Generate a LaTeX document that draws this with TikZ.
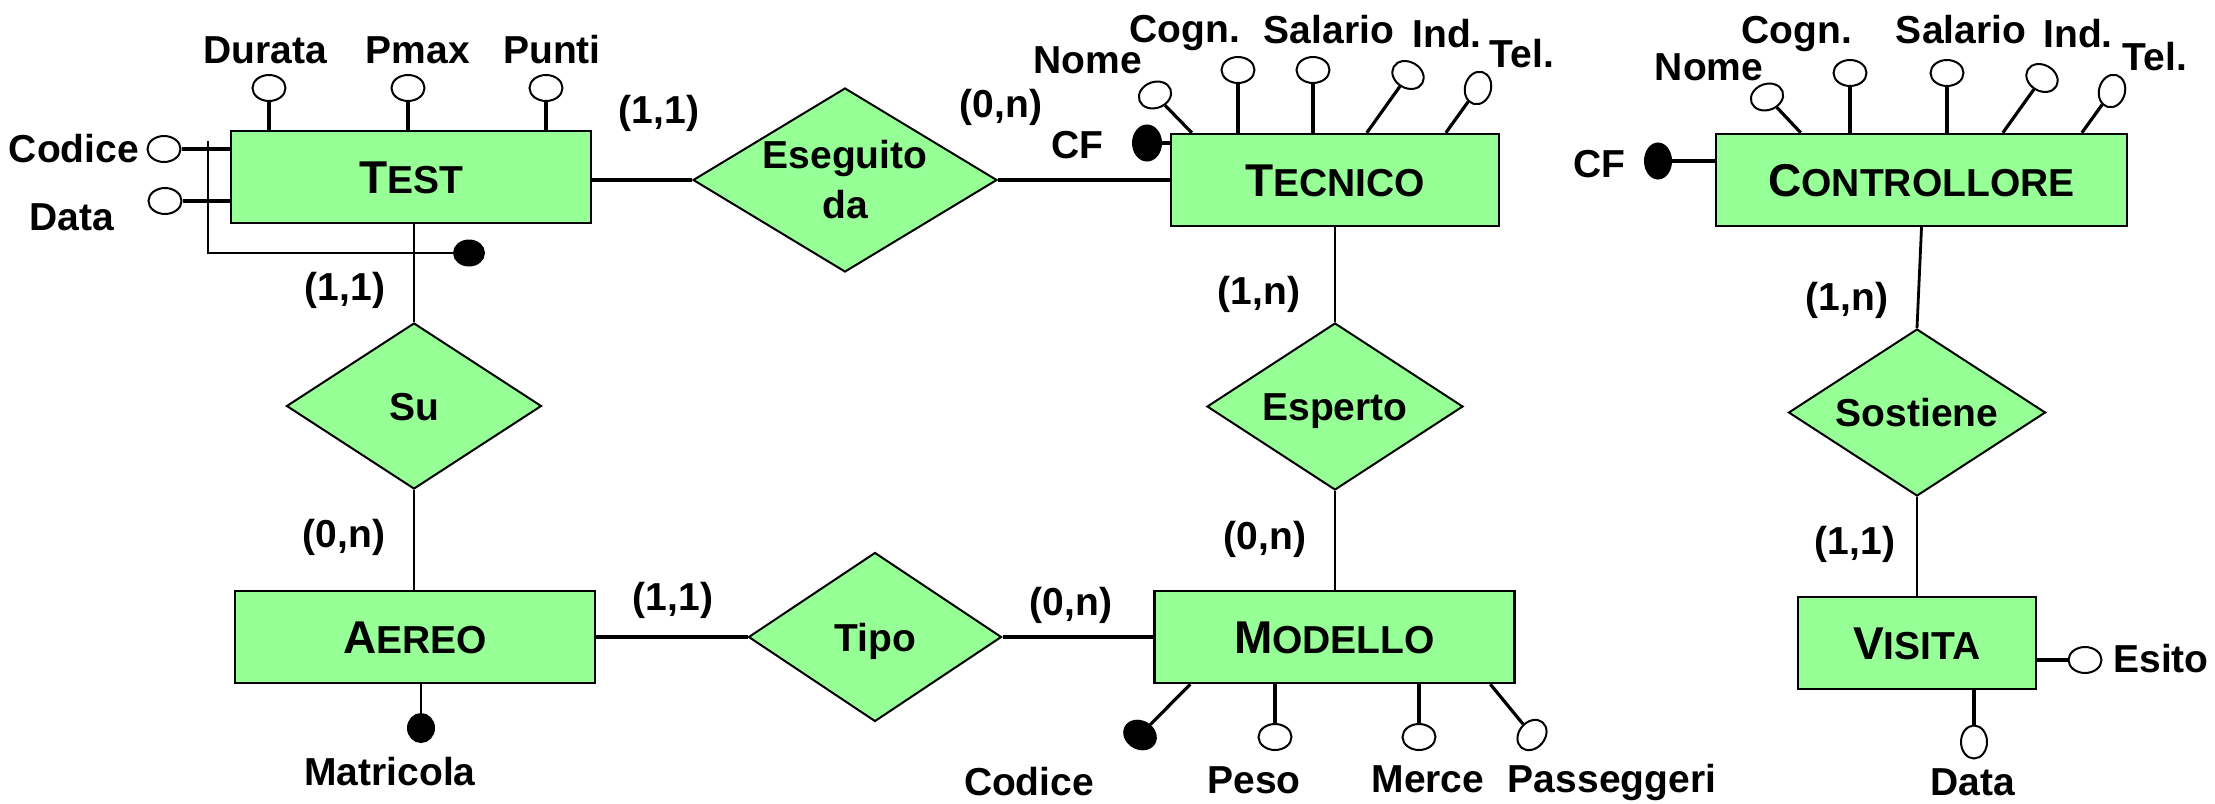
\documentclass[tikz,border=0pt]{standalone}
\usepackage{fontspec}
\setmainfont{Liberation Sans}
\usetikzlibrary{shapes.geometric}
\definecolor{ergreen}{RGB}{150,255,150}
\newcommand{\entname}[2]{{\fontsize{23}{23}\selectfont #1}#2}
\begin{document}
\begin{tikzpicture}[x=0.5pt,y=-0.5pt,
  font=\fontsize{19.5}{25}\selectfont\bfseries,
  entity/.style={draw=black, line width=1.2pt, fill=ergreen, rectangle, minimum height=46pt, inner sep=0pt, text height=16.5pt, text depth=0pt},
  rel/.style={draw=black, line width=1pt, fill=ergreen, diamond, inner sep=0pt},
  reltext/.style={inner sep=0pt, text height=14pt, text depth=0pt},
  attr/.style={draw=black, line width=1pt, fill=white, ellipse, minimum width=16.5pt, minimum height=13pt, inner sep=0pt},
  keyattr/.style={draw=black, line width=1pt, fill=black, ellipse, minimum width=16.5pt, minimum height=13.5pt, inner sep=0pt},
  lab/.style={anchor=base, inner sep=0pt},
  conn/.style={line width=1.4pt},
  thickconn/.style={line width=2pt},
  aline/.style={line width=1.6pt},
]
\useasboundingbox (0,0) rectangle (2215,803);

% entities
\node[entity, minimum width=180pt] (test) at (411,177) {\entname{T}{EST}};
\node[entity, minimum width=164pt] (tecnico) at (1335,180) {\entname{T}{ECNICO}};
\node[entity, minimum width=205.5pt] (controllore) at (1921.5,180) {\entname{C}{ONTROLLORE}};
\node[entity, minimum width=180pt] (aereo) at (415,637) {\entname{A}{EREO}};
\node[entity, minimum width=180pt] (modello) at (1334.5,637) {\entname{M}{ODELLO}};
\node[entity, minimum width=119pt] (visita) at (1917,643) {\entname{V}{ISITA}};

% relationships
\node[rel, minimum width=152pt, minimum height=92pt] (eseg) at (845,180) {};
\node[inner sep=0pt, align=center] (esegtxt) at (eseg.center) {Eseguito\\da};
\node[rel, minimum width=127.5pt, minimum height=83pt] (su) at (414,406) {};
\node[reltext] (sutxt) at (su.center) {Su};
\node[rel, minimum width=128pt, minimum height=83.5pt] (esperto) at (1335,406.5) {};
\node[reltext] (espertotxt) at (esperto.center) {Esperto};
\node[rel, minimum width=128.5pt, minimum height=83.5pt] (sostiene) at (1917,412.5) {};
\node[reltext] (sostienetxt) at (sostiene.center) {Sostiene};
\node[rel, minimum width=126.5pt, minimum height=84.5pt] (tipo) at (875,637) {};
\node[reltext] (tipotxt) at (tipo.center) {Tipo};

% relationship connectors
\draw[thickconn] (eseg.west -| test.east) -- (eseg.west);
\draw[thickconn] (eseg.east) -- (eseg.east -| tecnico.west);
\draw[conn] (su.north |- test.south) -- (su.north);
\draw[conn] (su.south) -- (su.south |- aereo.north);
\draw[conn] (esperto.north |- tecnico.south) -- (esperto.north);
\draw[conn] (esperto.south) -- (esperto.south |- modello.north);
\draw[thickconn] (tipo.west -| aereo.east) -- (tipo.west);
\draw[thickconn] (tipo.east) -- (tipo.east -| modello.west);
\draw[conn] (controllore.south) -- (sostiene.north);
\draw[conn] (sostiene.south) -- (visita.north);

% cardinalities
\node[lab] (c1) at (659,123) {(1,1)};
\node[lab] (c2) at (1001,117) {(0,n)};
\node[lab] (c3) at (345,300) {(1,1)};
\node[lab] (c4) at (344,547) {(0,n)};
\node[lab] (c5) at (1259,304) {(1,n)};
\node[lab] (c6) at (1265,549) {(0,n)};
\node[lab] (c7) at (1847,310) {(1,n)};
\node[lab] (c8) at (1855,554) {(1,1)};
\node[lab] (c9) at (673,610) {(1,1)};
\node[lab] (c10) at (1071,615) {(0,n)};

% TEST attributes
\node[attr] (durata) at (269,88) {};
\node[attr] (pmax) at (408,88) {};
\node[attr] (punti) at (546,88) {};
\node[attr] (tcodice) at (164,149) {};
\node[attr] (tdata) at (165,201) {};
\draw[aline] (durata) -- (durata |- test.north);
\draw[aline] (pmax) -- (pmax |- test.north);
\draw[aline] (punti) -- (punti |- test.north);
\draw[aline] (tcodice) -- (tcodice -| test.west);
\draw[aline] (tdata) -- (tdata -| test.west);
\coordinate (idtop) at (208,141);
\coordinate (idcorner) at (208,253);
\node[keyattr, minimum width=15pt, minimum height=12.5pt] (tkey) at (469,253) {};
\draw[conn] (idtop) -- (idcorner) -- (tkey);
\node[lab] (ldurata) at (265,63) {Durata};
\node[lab] (lpmax) at (418,63) {Pmax};
\node[lab] (lpunti) at (552,63) {Punti};
\node[lab] (ltcodice) at (74,162) {Codice};
\node[lab] (ltdata) at (72,230) {Data};

% TECNICO attributes
\node[keyattr, minimum width=17.5pt, minimum height=14pt, rotate=90] (tcf) at (1147,143) {};
\node[attr, rotate=20] (tnome) at (1155,95) {};
\node[attr] (tcogn) at (1238,70) {};
\node[attr] (tsal) at (1313,70) {};
\node[attr, rotate=-30] (tind) at (1408,75) {};
\node[attr, rotate=75] (ttel) at (1478,88) {};
\draw[aline] (tcf) -- (tcf -| tecnico.west);
\draw[aline] (tnome) -- ([xshift=11pt]tecnico.north west);
\draw[aline] (tcogn) -- (tcogn |- tecnico.north);
\draw[aline] (tsal) -- (tsal |- tecnico.north);
\draw[aline] (tind) -- ([xshift=98.5pt]tecnico.north west);
\draw[aline] (ttel) -- ([xshift=138pt]tecnico.north west);
\node[lab] (ltcf) at (1077,158) {CF};
\node[lab] (ltnome) at (1088,73) {Nome};
\node[lab] (ltcogn) at (1185,42) {Cogn.};
\node[lab] (ltsal) at (1329,43) {Salario};
\node[lab] (ltind) at (1447,47) {Ind.};
\node[lab] (lttel) at (1522,67) {Tel.};

% CONTROLLORE attributes
\node[keyattr, minimum width=17.5pt, minimum height=13pt, rotate=90] (ccf) at (1658,161) {};
\node[attr, rotate=20] (cnome) at (1767,97) {};
\node[attr] (ccogn) at (1850,73) {};
\node[attr] (csal) at (1947,73) {};
\node[attr, rotate=-30] (cind) at (2042,78) {};
\node[attr, rotate=75] (ctel) at (2112,91) {};
\draw[aline] (ccf) -- (ccf -| controllore.west);
\draw[aline] (cnome) -- ([xshift=43pt]controllore.north west);
\draw[aline] (ccogn) -- (ccogn |- controllore.north);
\draw[aline] (csal) -- (csal |- controllore.north);
\draw[aline] (cind) -- ([xshift=144pt]controllore.north west);
\draw[aline] (ctel) -- ([xshift=183.5pt]controllore.north west);
\node[lab] (lccf) at (1599,177) {CF};
\node[lab] (lcnome) at (1709,80) {Nome};
\node[lab] (lccogn) at (1797,43) {Cogn.};
\node[lab] (lcsal) at (1961,43) {Salario};
\node[lab] (lcind) at (2078,47) {Ind.};
\node[lab] (lctel) at (2155,70) {Tel.};

% AEREO attributes
\node[keyattr, minimum width=14pt, minimum height=13pt, rotate=90] (matr) at (421,728) {};
\draw[conn] (matr) -- (matr |- aereo.south);
\node[lab] (lmatr) at (390,785) {Matricola};

% MODELLO attributes
\node[keyattr, rotate=-30] (mcodice) at (1140,735) {};
\node[attr] (peso) at (1275,737) {};
\node[attr] (merce) at (1419,737) {};
\node[attr, rotate=50] (pass) at (1532,735) {};
\draw[aline] (mcodice) -- ([xshift=18.5pt]modello.south west);
\draw[aline] (peso) -- (peso |- modello.south);
\draw[aline] (merce) -- (merce |- modello.south);
\draw[aline] (pass) -- ([xshift=168.5pt]modello.south west);
\node[lab] (lmcodice) at (1029,795) {Codice};
\node[lab] (lpeso) at (1254,793) {Peso};
\node[lab] (lmerce) at (1428,792) {Merce};
\node[lab] (lpass) at (1612,792) {Passeggeri};

% VISITA attributes
\node[attr] (esito) at (2085,660) {};
\node[attr, rotate=90] (vdata) at (1974,742) {};
\draw[thickconn] (esito) -- (esito -| visita.east);
\draw[thickconn] (vdata) -- (vdata |- visita.south);
\node[lab, anchor=base west] (lesito) at (2113,672) {Esito};
\node[lab] (lvdata) at (1973,795) {Data};
\end{tikzpicture}
\end{document}
